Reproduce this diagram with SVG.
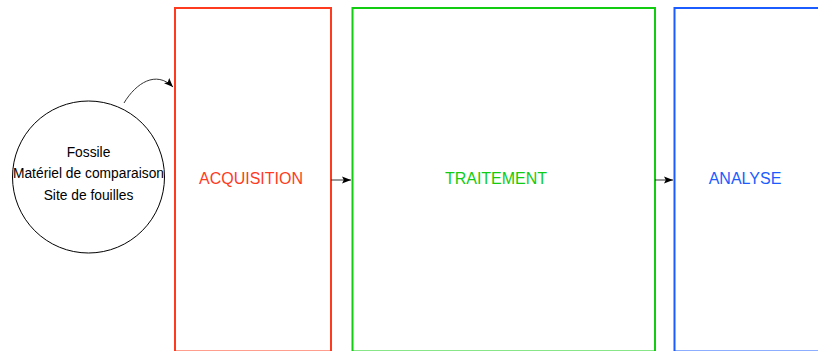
<svg xmlns="http://www.w3.org/2000/svg" width="818" height="351" viewBox="0 0 818 351">
<defs>
<style>
.box{fill:none;stroke-width:2}
.lbl{font-family:"Liberation Sans",Arial,sans-serif;font-size:16px;text-anchor:middle}
.small{font-family:"Liberation Sans",Arial,sans-serif;font-size:13.8px;text-anchor:middle;fill:#000}
.conn{fill:none;stroke:#333;stroke-width:1}
</style>
<marker id="ah" viewBox="0 0 10 10" refX="10" refY="5" markerWidth="9" markerHeight="9" markerUnits="userSpaceOnUse" orient="auto">
<path d="M0,1 L10,5 L0,9 L2,5 Z" fill="#000"/>
</marker>
</defs>
<rect width="818" height="351" fill="#fff"/>
<g id="source">
<circle cx="88.5" cy="177" r="76" fill="none" stroke="#000" stroke-width="1"/>
<text class="small" x="88.5" y="157">Fossile</text>
<text class="small" x="88.5" y="178">Matériel de comparaison</text>
<text class="small" x="88.5" y="200">Site de fouilles</text>
</g>
<g id="acquisition">
<rect class="box" x="175" y="8" width="156" height="343.5" stroke="#FF3B1F"/>
<text class="lbl" x="251" y="184" fill="#FF3B1F">ACQUISITION</text>
</g>
<g id="traitement">
<rect class="box" x="352.5" y="8" width="302.5" height="343.5" stroke="#11CC11"/>
<text class="lbl" x="496" y="184" fill="#11CC11">TRAITEMENT</text>
</g>
<g id="analyse">
<rect class="box" x="674.5" y="8" width="200" height="343.5" stroke="#1A5CFF"/>
<text class="lbl" x="745" y="184" fill="#1A5CFF">ANALYSE</text>
</g>
<g id="connectors">
<path class="conn" d="M124,103 C136,83 156,70 173,87" marker-end="url(#ah)"/>
<path class="conn" d="M331,180 L351,180" marker-end="url(#ah)"/>
<path class="conn" d="M655,180 L673,180" marker-end="url(#ah)"/>
</g>
</svg>
